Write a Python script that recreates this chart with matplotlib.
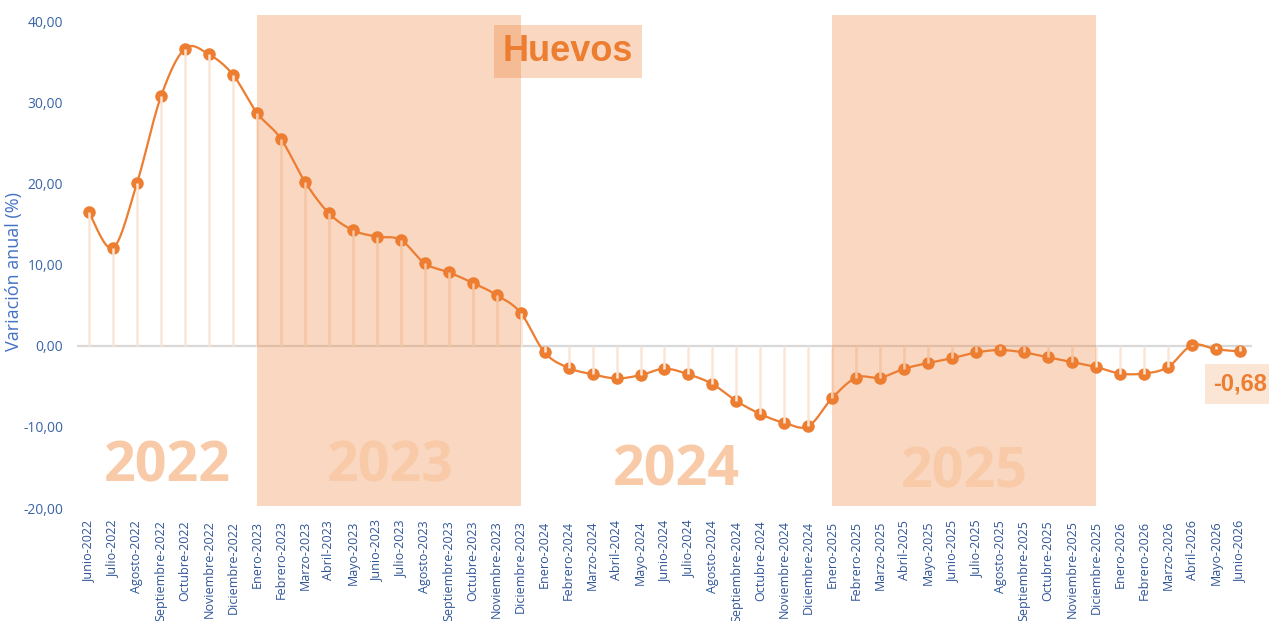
import numpy as np
import matplotlib.pyplot as plt
from matplotlib.patches import Rectangle

meses = ['Junio', 'Julio', 'Agosto', 'Septiembre', 'Octubre', 'Noviembre', 'Diciembre',
         'Enero', 'Febrero', 'Marzo', 'Abril', 'Mayo']
anios = [2022] * 7 + [2023] * 12 + [2024] * 12 + [2025] * 12 + [2026] * 6
etiquetas = []
for i, a in enumerate(anios):
    etiquetas.append(f'{meses[i % 12]}-{a}')

variacion = [16.5, 12.1, 20.1, 30.8, 36.7, 36.0, 33.5,
             28.8, 25.6, 20.3, 16.4, 14.3, 13.5, 13.1, 10.2, 9.1, 7.8, 6.3, 4.1,
             -0.8, -2.7, -3.5, -4.0, -3.6, -2.8, -3.5, -4.7, -6.8, -8.4, -9.5, -9.9,
             -6.4, -3.9, -3.9, -2.8, -2.1, -1.5, -0.8, -0.5, -0.8, -1.4, -2.0, -2.6,
             -3.4, -3.4, -2.6, 0.1, -0.4, -0.68]

anios_txt = ['2022', '2023', '2024', '2025']
anios_pos = [3.25, 12.55, 24.5, 36.5]
anios_y = [-15.0, -15.0, -15.4, -15.7]
bloques = [(7, 18), (31, 42)]

naranja = '#ed7d31'
azul = '#3a64a8'


def suavizar(x, y, n=20):
    # curva tipo Excel (bezier con tangentes catmull-rom)
    x = np.asarray(x, float)
    y = np.asarray(y, float)
    xs, ys = [], []
    for i in range(len(x) - 1):
        i0 = max(i - 1, 0)
        i3 = min(i + 2, len(x) - 1)
        p0 = np.array([x[i], y[i]])
        p3 = np.array([x[i + 1], y[i + 1]])
        p1 = p0 + (p3 - np.array([x[i0], y[i0]])) / 6
        p2 = p3 - (np.array([x[i3], y[i3]]) - p0) / 6
        t = np.linspace(0, 1, n)[:, None]
        pts = (1 - t) ** 3 * p0 + 3 * (1 - t) ** 2 * t * p1 + 3 * (1 - t) * t ** 2 * p2 + t ** 3 * p3
        xs.extend(pts[:, 0])
        ys.extend(pts[:, 1])
    return np.array(xs), np.array(ys)


fig = plt.figure(figsize=(12.69, 6.21), dpi=100)
ax = fig.add_axes([77 / 1269, 1 - 508 / 621, (1252 - 77) / 1269, (508 - 15) / 621])

x = np.arange(len(variacion))
ax.set_xlim(-0.5, len(variacion) - 0.5)
ax.set_ylim(-20, 40.86)

ax.axhline(0, color='#d9d9d9', lw=1.6, zorder=1)

# lineas verticales
ax.vlines(x, 0, variacion, color='#fbe5d6', lw=1.8, zorder=5)

xs, ys = suavizar(x, variacion)
ax.plot(xs, ys, color=naranja, lw=1.6, zorder=3)
ax.plot(x, variacion, 'o', color=naranja, ms=8, zorder=4)

# sombreado de años
for a, b in bloques:
    ax.add_patch(Rectangle((a, -19.75), b - a, 40.86 + 19.75, facecolor=naranja,
                           alpha=0.3, lw=0, zorder=6))

# textos de años
for t, px, py in zip(anios_txt, anios_pos, anios_y):
    ax.text(px, py, t, ha='center', va='center', fontsize=40, fontweight='bold',
            family='Open Sans', color='#f8caa7', zorder=7)

ax.text(19.97, 36.4, 'Huevos', ha='center', va='center', fontsize=26, fontweight='bold',
        family='Liberation Sans', color=naranja, zorder=8,
        bbox=dict(boxstyle='square,pad=0.25', facecolor=naranja, alpha=0.3, lw=0))

ax.text(48.0, -4.7, f'{variacion[-1]:.2f}'.replace('.', ','), ha='center', va='center',
        fontsize=17, fontweight='bold', family='Liberation Sans', color=naranja, zorder=8,
        clip_on=False,
        bbox=dict(boxstyle='square,pad=0.35', facecolor=naranja, alpha=0.2, lw=0))

ax.set_xticks(x)
ax.set_xticklabels(etiquetas, rotation=90, fontsize=9, color='#2f5597', family='Open Sans')
ax.set_yticks(np.arange(-20, 41, 10))
ax.set_yticklabels([f'{v:.2f}'.replace('.', ',') for v in np.arange(-20, 41, 10)],
                   fontsize=10, color=azul, family='Open Sans')
ax.tick_params(axis='both', length=0)
ax.tick_params(axis='x', pad=9)
ax.tick_params(axis='y', pad=10)

fig.text(14 / 1269, 1 - 272 / 621, 'Variación anual (%)', rotation=90, ha='center',
         va='center', fontsize=13, color='#4472c4', family='Open Sans')

for s in ax.spines.values():
    s.set_visible(False)

fig.savefig('out.png', dpi=100)
